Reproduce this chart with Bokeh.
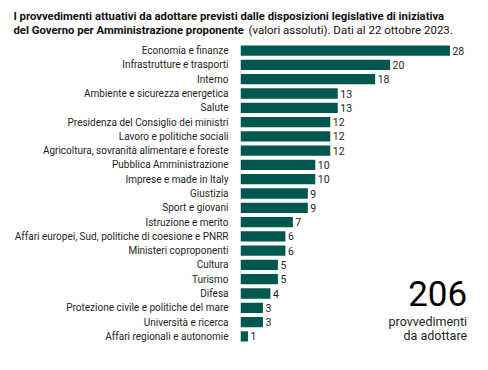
from bokeh.plotting import figure
from bokeh.layouts import column
from bokeh.models import ColumnDataSource, Label, Range1d, FactorRange
from bokeh.core.properties import value
from bokeh.embed import file_html
from bokeh.resources import INLINE

categories = [
    "Economia e finanze",
    "Infrastrutture e trasporti",
    "Interno",
    "Ambiente e sicurezza energetica",
    "Salute",
    "Presidenza del Consiglio dei ministri",
    "Lavoro e politiche sociali",
    "Agricoltura, sovranità alimentare e foreste",
    "Pubblica Amministrazione",
    "Imprese e made in Italy",
    "Giustizia",
    "Sport e giovani",
    "Istruzione e merito",
    "Affari europei, Sud, politiche di coesione e PNRR",
    "Ministeri coproponenti",
    "Cultura",
    "Turismo",
    "Difesa",
    "Protezione civile e politiche del mare",
    "Università e ricerca",
    "Affari regionali e autonomie",
]
values = [28, 20, 18, 13, 13, 12, 12, 12, 10, 10, 9, 9, 7, 6, 6, 5, 5, 4, 3, 3, 1]
total_text = "206"
total_caption = ["provvedimenti", "da adottare"]
title_line1 = "I provvedimenti attuativi da adottare previsti dalle disposizioni legislative di iniziativa"
title_line2_bold = "del Governo per Amministrazione proponente"
title_line2_normal = "(valori assoluti). Dati al 22 ottobre 2023."

FONT = "Roboto"
BAR = "#00574d"
TXT = "#1e1e24"
W = 472
H_TITLE = 43
H_MAIN = 311
LEFT = 240
PX_PER_UNIT = 7.48

# --- title strip ---
t = figure(width=W, height=H_TITLE, x_range=Range1d(0, W), y_range=Range1d(H_TITLE, 0),
           output_backend="svg", toolbar_location=None,
           min_border=0, min_border_left=0, min_border_right=0, min_border_top=0, min_border_bottom=0)
t.frame_align = False
t.axis.visible = False
t.grid.visible = False
t.outline_line_color = None
tsrc = ColumnDataSource(dict(x=[13, 13], y=[15.5, 29.5], txt=[title_line1, title_line2_bold]))
t.text(x="x", y="y", text="txt", source=tsrc, text_font=value(FONT), text_font_size="11.3px",
       text_font_style="bold", text_color="#111111", text_baseline="alphabetic", text_align="left")
t.text(x=[248], y=[29.5], text=[title_line2_normal], text_font=value(FONT), text_font_size="11.5px",
       text_color="#111111", text_baseline="alphabetic", text_align="left")

# --- main chart ---
src = ColumnDataSource(dict(cat=categories, val=values, lab=[str(v) for v in values]))
p = figure(
    width=W, height=H_MAIN,
    y_range=FactorRange(*list(reversed(categories)), range_padding=0),
    x_range=Range1d(0, (W - LEFT) / PX_PER_UNIT),
    output_backend="svg", toolbar_location=None,
    min_border_left=LEFT, min_border_right=0, min_border_top=0, min_border_bottom=11,
)
p.frame_align = False
p.outline_line_color = None
p.xgrid.visible = False
p.ygrid.visible = False
p.xaxis.visible = False
p.yaxis.axis_line_color = None
p.yaxis.major_tick_line_color = None
p.yaxis.minor_tick_line_color = None
p.yaxis.major_label_standoff = 6
p.yaxis.major_label_text_font = FONT
p.yaxis.major_label_text_font_size = "10px"
p.yaxis.major_label_text_color = TXT

p.hbar(y="cat", right="val", left=0, height=0.72, source=src, color=BAR, line_color=None)
p.text(x="val", y="cat", text="lab", source=src, x_offset=2.5, text_baseline="middle",
       text_align="left", text_font=value(FONT), text_font_size="10.5px", text_color=TXT)

# total, placed in data units (x value units, y synthetic factor units)
p.add_layout(Label(x=30.3, y=3.5, text=total_text,
                   text_font=FONT, text_font_size="35px", text_color="#000000",
                   text_align="right", text_baseline="alphabetic"))
p.add_layout(Label(x=30.3, y=1.57, text=total_caption[0],
                   text_font=FONT, text_font_size="12.5px", text_color=TXT,
                   text_align="right", text_baseline="alphabetic"))
p.add_layout(Label(x=30.3, y=0.55, text=total_caption[1],
                   text_font=FONT, text_font_size="12.5px", text_color=TXT,
                   text_align="right", text_baseline="alphabetic"))

layout = column(t, p, spacing=0)
open("out.html", "w").write(file_html(layout, INLINE))
